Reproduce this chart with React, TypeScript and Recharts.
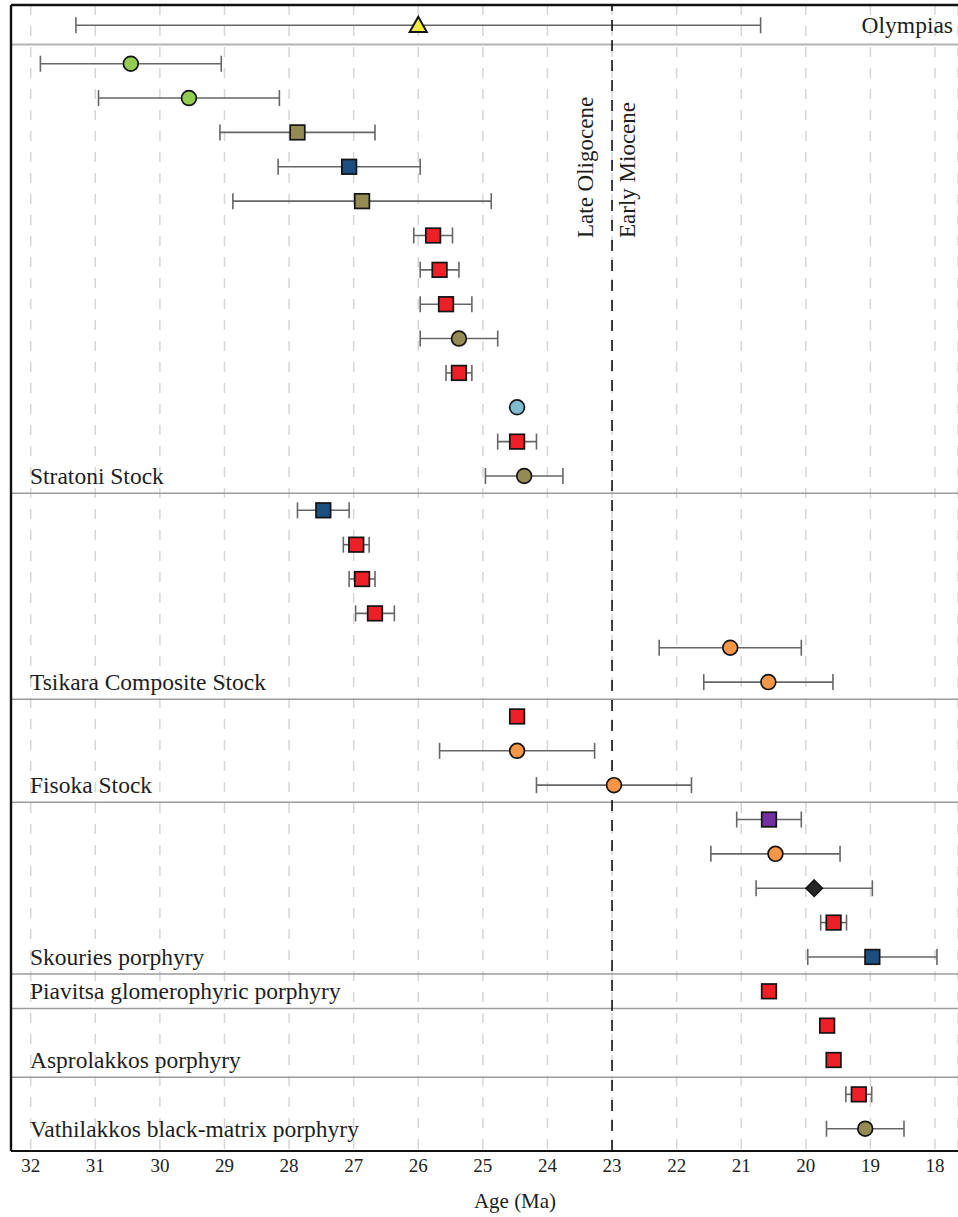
import * as React from "react";
import {
  ScatterChart,
  Scatter,
  XAxis,
  YAxis,
  CartesianGrid,
  ReferenceLine,
  ErrorBar,
} from "recharts";

// intrusive units, top to bottom
const groupNames = [
  "Olympias",
  "Stratoni Stock",
  "Tsikara Composite Stock",
  "Fisoka Stock",
  "Skouries porphyry",
  "Piavitsa glomerophyric porphyry",
  "Asprolakkos porphyry",
  "Vathilakkos black-matrix porphyry",
];
const groupSizes = [1, 13, 6, 3, 5, 1, 2, 2];

// age (Ma) and 2σ uncertainty for every sample, in row order
const ages = [
  26.0,
  30.45, 29.55, 27.87, 27.07, 26.87, 25.77, 25.67, 25.57, 25.37, 25.37, 24.47, 24.47, 24.36,
  27.47, 26.96, 26.87, 26.67, 21.17, 20.58,
  24.47, 24.47, 22.97,
  20.57, 20.47, 19.87, 19.57, 18.97,
  20.57,
  19.67, 19.57,
  19.18, 19.08,
];
const errors = [
  5.3,
  1.4, 1.4, 1.2, 1.1, 2.0, 0.3, 0.3, 0.4, 0.6, 0.2, 0, 0.3, 0.6,
  0.4, 0.2, 0.2, 0.3, 1.1, 1.0,
  0, 1.2, 1.2,
  0.5, 1.0, 0.9, 0.2, 1.0,
  0,
  0, 0,
  0.2, 0.6,
];
const shapes = [
  "triangle",
  "circle", "circle", "square", "square", "square", "square", "square", "square", "circle", "square", "circle", "square", "circle",
  "square", "square", "square", "square", "circle", "circle",
  "square", "circle", "circle",
  "square", "circle", "diamond", "square", "square",
  "square",
  "square", "square",
  "square", "circle",
];
const colors = [
  "yellow",
  "green", "green", "olive", "blue", "olive", "red", "red", "red", "olive", "red", "sky", "red", "olive",
  "blue", "red", "red", "red", "orange", "orange",
  "red", "orange", "orange",
  "purple", "orange", "black", "red", "blue",
  "red",
  "red", "red",
  "red", "olive",
];

const ageTicks = [32, 31, 30, 29, 28, 27, 26, 25, 24, 23, 22, 21, 20, 19, 18];
const epochBoundary = 23;

const palette: Record<string, string> = {
  yellow: "#f2ea45",
  green: "#92cc52",
  olive: "#948a54",
  blue: "#1c4e80",
  red: "#ec2026",
  sky: "#7fbcd2",
  orange: "#f79646",
  purple: "#7030a0",
  black: "#262626",
};

const FONT = '"Liberation Serif", "Times New Roman", serif';
const OLYMPIAS_ROW = -1.118; // top panel sits a little higher than the regular row pitch

// row position of each sample
const rowOf: number[] = [];
{
  let r = 0;
  ages.forEach((_, i) => {
    if (i === 0) rowOf.push(OLYMPIAS_ROW);
    else rowOf.push(r++);
  });
}

const data = ages.map((age, i) => ({
  age,
  err: errors[i],
  shape: shapes[i],
  color: colors[i],
  row: rowOf[i],
}));

// last row of each group (label row) and separators between groups
const groupLastRow: number[] = [];
const separators: number[] = [];
{
  let idx = 0;
  groupSizes.forEach((n, g) => {
    idx += n;
    groupLastRow.push(rowOf[idx - 1]);
    if (g < groupSizes.length - 1) separators.push((rowOf[idx - 1] + rowOf[idx]) / 2);
  });
}

const X_DOMAIN: [number, number] = [17.644, 32.305];
const Y_DOMAIN: [number, number] = [-1.709, 31.649];

const Marker = (props: any) => {
  const { cx, cy, payload } = props;
  const fill = palette[payload.color];
  const stroke = "#141414";
  if (payload.shape === "square") {
    return (
      <rect x={cx - 7.3} y={cy - 7.3} width={14.6} height={14.6} fill={fill} stroke={stroke} strokeWidth={1.7} />
    );
  }
  if (payload.shape === "triangle") {
    return (
      <polygon
        points={`${cx},${cy - 8.6} ${cx - 8.6},${cy + 6.8} ${cx + 8.6},${cy + 6.8}`}
        fill={fill}
        stroke={stroke}
        strokeWidth={2}
        strokeLinejoin="miter"
      />
    );
  }
  if (payload.shape === "diamond") {
    return (
      <polygon
        points={`${cx},${cy - 8.3} ${cx + 8.3},${cy} ${cx},${cy + 8.3} ${cx - 8.3},${cy}`}
        fill={fill}
        stroke={stroke}
        strokeWidth={1.5}
      />
    );
  }
  return <circle cx={cx} cy={cy} r={7.4} fill={fill} stroke={stroke} strokeWidth={1.7} />;
};

const groupLabel = (name: string, right: boolean) => (props: any) => {
  const { viewBox } = props;
  if (!viewBox) return null;
  return (
    <text
      x={right ? viewBox.x + viewBox.width - 5 : viewBox.x + 19}
      y={viewBox.y + 8}
      textAnchor={right ? "end" : "start"}
      fontSize={23.5}
      fontFamily={FONT}
      fill="#1e1e1e"
    >
      {name}
    </text>
  );
};

const epochLabel = (props: any) => {
  const { viewBox } = props;
  if (!viewBox) return null;
  const x = viewBox.x;
  const y = 238;
  return (
    <g fontSize={23} fontFamily={FONT} fill="#1e1e1e">
      <text x={x - 19} y={y} transform={`rotate(-90, ${x - 19}, ${y})`}>
        Late Oligocene
      </text>
      <text x={x + 23} y={y} transform={`rotate(-90, ${x + 23}, ${y})`}>
        Early Miocene
      </text>
    </g>
  );
};

const axisTitle = (props: any) => {
  const { viewBox } = props;
  if (!viewBox) return null;
  return (
    <text x={515} y={viewBox.y + 57} textAnchor="middle" fontSize={21} fontFamily={FONT} fill="#1e1e1e">
      Age (Ma)
    </text>
  );
};

export default function App() {
  return (
    <div style={{ position: "absolute", left: 0, top: 0, width: 958, height: 1217, background: "#fff", fontFamily: FONT }}>
      <ScatterChart width={958} height={1217} margin={{ top: 5, right: 0, bottom: 0, left: 11 }}>
        <CartesianGrid
          horizontal={false}
          stroke="#d6d6d6"
          strokeWidth={1.5}
          strokeDasharray="10 11"
        />
        <XAxis
          type="number"
          dataKey="age"
          domain={X_DOMAIN}
          allowDataOverflow
          reversed
          ticks={ageTicks}
          interval={0}
          tickLine={false}
          height={66}
          axisLine={{ stroke: "#111", strokeWidth: 2.2 }}
          tick={{ fontSize: 19, fill: "#222", fontFamily: FONT }}
          label={axisTitle}
        />
        <YAxis type="number" dataKey="row" domain={Y_DOMAIN} allowDataOverflow reversed hide />

        {separators.map((y, i) => (
          <ReferenceLine
            key={`sep-${i}`}
            y={y}
            stroke={i === 0 ? "#b4b4b4" : "#9c9c9c"}
            strokeWidth={i === 0 ? 2 : 1.5}
          />
        ))}

        <Scatter data={data} shape={<Marker />} isAnimationActive={false}>
          <ErrorBar dataKey="err" direction="x" width={8} stroke="#666" strokeWidth={1.6} />
        </Scatter>

        <ReferenceLine
          x={epochBoundary}
          stroke="#111"
          strokeWidth={1.6}
          strokeDasharray="11 9"
          label={epochLabel}
        />

        {groupNames.map((name, g) => (
          <ReferenceLine
            key={`lbl-${g}`}
            y={groupLastRow[g]}
            stroke="none"
            label={groupLabel(name, g === 0)}
          />
        ))}

        {/* frame: top and left edges */}
        <ReferenceLine y={Y_DOMAIN[0]} stroke="#111" strokeWidth={2.4} />
        <ReferenceLine x={X_DOMAIN[1]} stroke="#111" strokeWidth={2.4} />
      </ScatterChart>
    </div>
  );
}
